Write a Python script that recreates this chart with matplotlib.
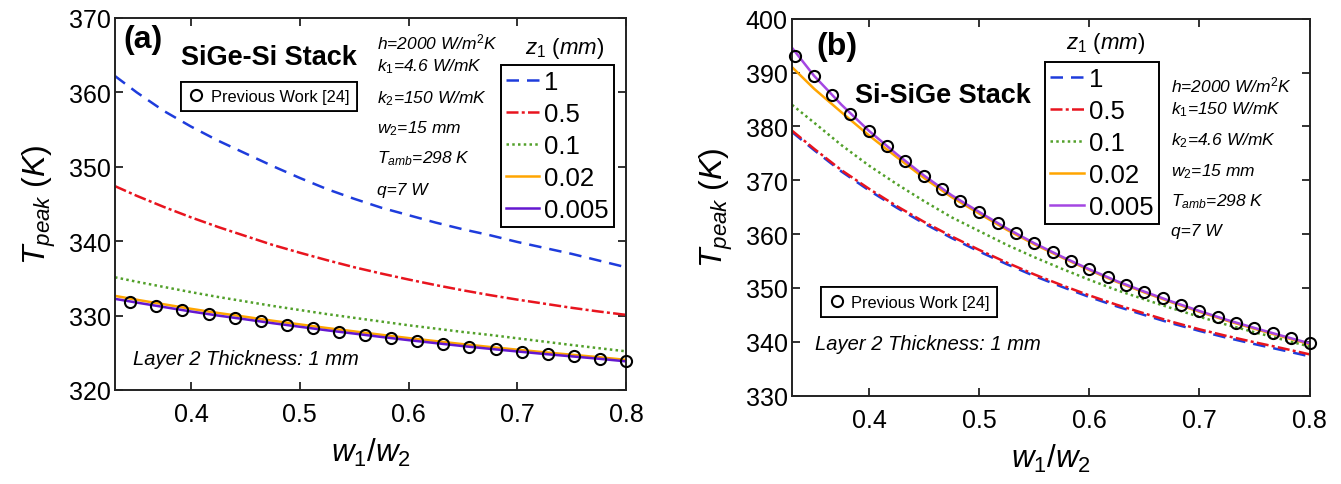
import matplotlib
matplotlib.use("Agg")
import matplotlib.pyplot as plt
from matplotlib.lines import Line2D

plt.rcParams['font.family'] = ['Liberation Sans', 'DejaVu Sans']
plt.rcParams['mathtext.fontset'] = 'custom'
plt.rcParams['mathtext.rm'] = 'Liberation Sans'
plt.rcParams['mathtext.it'] = 'Liberation Sans:italic'
plt.rcParams['mathtext.bf'] = 'Liberation Sans:bold'

# ---------------- data ----------------
w_ratio = [0.33, 0.35, 0.375, 0.40, 0.425, 0.45, 0.475, 0.50, 0.525, 0.55,
           0.575, 0.60, 0.625, 0.65, 0.675, 0.70, 0.725, 0.75, 0.775, 0.80]

z1_labels = ['1', '0.5', '0.1', '0.02', '0.005']

# (a) SiGe-Si stack, peak temperature (K) for each z1
a_z1_1 = [362.2, 360.0, 357.5, 355.4, 353.5, 351.8, 350.1, 348.5, 347.0, 345.7,
          344.5, 343.5, 342.5, 341.6, 340.8, 339.9, 339.1, 338.3, 337.4, 336.5]
a_z1_05 = [347.4, 346.1, 344.6, 343.2, 341.9, 340.7, 339.5, 338.45, 337.45, 336.5,
           335.65, 334.85, 334.1, 333.4, 332.75, 332.15, 331.6, 331.05, 330.55, 330.1]
a_z1_01 = [335.15, 334.55, 333.85, 333.15, 332.5, 331.9, 331.3, 330.75, 330.2, 329.7,
           329.2, 328.7, 328.25, 327.8, 327.4, 326.95, 326.5, 326.05, 325.62, 325.2]
a_z1_002 = [332.65, 332.13, 331.52, 330.91, 330.35, 329.84, 329.31, 328.82, 328.33, 327.88,
            327.42, 326.98, 326.57, 326.16, 325.78, 325.42, 325.07, 324.74, 324.41, 324.05]
a_z1_0005 = [332.25, 331.75, 331.15, 330.55, 330.0, 329.5, 328.98, 328.5, 328.02, 327.58,
             327.13, 326.7, 326.3, 325.9, 325.53, 325.18, 324.84, 324.52, 324.2, 323.85]
a_prev_x = [0.344, 0.368, 0.392, 0.416, 0.440, 0.464, 0.488, 0.512, 0.536, 0.560,
            0.584, 0.608, 0.632, 0.656, 0.680, 0.704, 0.728, 0.752, 0.776, 0.800]
a_prev_T = [331.87, 331.27, 330.70, 330.20, 329.70, 329.22, 328.74, 328.28, 327.83, 327.39,
            326.96, 326.56, 326.18, 325.82, 325.49, 325.17, 324.84, 324.55, 324.23, 323.85]

# (b) Si-SiGe stack
b_z1_1 = [378.95, 375.6, 371.6, 368.1, 364.9, 361.95, 359.25, 356.75, 354.4, 352.2,
          350.2, 348.3, 346.55, 344.95, 343.4, 342.0, 340.72, 339.55, 338.43, 337.28]
b_z1_05 = [379.2, 375.85, 371.85, 368.4, 365.2, 362.25, 359.55, 357.05, 354.7, 352.5,
           350.5, 348.6, 346.85, 345.25, 343.7, 342.3, 341.05, 339.9, 338.8, 337.65]
b_z1_01 = [384.0, 380.7, 376.5, 372.7, 369.3, 366.1, 363.1, 360.55, 358.0, 355.7,
           353.55, 351.5, 349.57, 347.86, 346.2, 344.63, 343.13, 341.76, 340.42, 339.11]
b_z1_002 = [391.0, 387.0, 382.6, 378.3, 374.3, 370.4, 366.85, 363.8, 360.8, 358.1,
            355.65, 353.3, 351.1, 349.15, 347.3, 345.55, 343.9, 342.4, 340.95, 339.55]
b_z1_0005 = [394.6, 389.4, 384.0, 379.15, 374.85, 370.85, 367.2, 364.1, 361.05, 358.3,
             355.8, 353.45, 351.25, 349.3, 347.45, 345.7, 344.05, 342.55, 341.1, 339.7]
b_prev_x = [0.333, 0.350, 0.366, 0.383, 0.400, 0.416, 0.433, 0.450, 0.466, 0.483,
            0.500, 0.517, 0.533, 0.550, 0.567, 0.583, 0.600, 0.617, 0.633, 0.650,
            0.667, 0.683, 0.700, 0.717, 0.733, 0.750, 0.767, 0.783, 0.800]
b_prev_T = [393.1, 389.4, 385.8, 382.3, 379.2, 376.3, 373.5, 370.85, 368.35, 366.15,
            364.1, 362.05, 360.1, 358.3, 356.6, 355.0, 353.45, 351.95, 350.6, 349.3,
            348.05, 346.85, 345.7, 344.6, 343.55, 342.55, 341.6, 340.65, 339.7]

a_params = ['h=2000 W/m$^{\\mathit{2}}$K', 'k$_{\\mathit{1}}$=4.6 W/mK', 'k$_{\\mathit{2}}$=150 W/mK',
            'w$_{\\mathit{2}}$=15 mm', 'T$_{\\mathit{amb}}$=298 K', 'q=7 W']
b_params = ['h=2000 W/m$^{\\mathit{2}}$K', 'k$_{\\mathit{1}}$=150 W/mK', 'k$_{\\mathit{2}}$=4.6 W/mK',
            'w$_{\\mathit{2}}$=15 mm', 'T$_{\\mathit{amb}}$=298 K', 'q=7 W']

# ---------------- styles ----------------
BLUE = '#1e3cdc'
RED = '#e8141e'
GREEN = '#52a02a'
ORANGE = '#ffa500'
PURPLE_A = '#6418d0'
PURPLE_B = '#a446e2'

line_styles = [
    dict(color=BLUE, dashes=(5.0, 3.2)),
    dict(color=RED, dashes=(4.8, 1.3, 1.2, 1.3)),
    dict(color=GREEN, dashes=(1.0, 1.3)),
    dict(color=ORANGE, ls='-'),
]
LW = 1.8

W, H = 1341, 485
fig = plt.figure(figsize=(W / 100, H / 100), dpi=100)
axA = fig.add_axes([115 / W, 1 - 391 / H, 511 / W, 372 / H])
axB = fig.add_axes([792 / W, 1 - 396.5 / H, 517.5 / W, 376.8 / H])


def draw_panel(ax, series, purple, prev_x, prev_T, ylim, yticks):
    handles = []
    for vals, st in zip(series[:4], line_styles):
        ln, = ax.plot(w_ratio, vals, lw=LW, **st)
        handles.append(ln)
    ln, = ax.plot(w_ratio, series[4], lw=LW, color=purple)
    handles.append(ln)
    ax.plot(prev_x, prev_T, ls='none', marker='o', ms=8.0, mfc='none',
            mec='black', mew=1.5, clip_on=False, zorder=5)
    ax.set_xlim(0.33, 0.8)
    ax.set_ylim(*ylim)
    ax.set_xticks([0.4, 0.5, 0.6, 0.7, 0.8])
    ax.set_xticklabels(['0.4', '0.5', '0.6', '0.7', '0.8'])
    ax.set_yticks(yticks)
    ax.tick_params(direction='in', top=True, right=True, length=6, width=1.3,
                   labelsize=18, color='#222222')
    ax.tick_params(axis='x', pad=9)
    ax.tick_params(axis='y', pad=3)
    for s in ax.spines.values():
        s.set_linewidth(1.4)
        s.set_color('#222222')
    ax.set_xlabel(r'$\mathit{w_1/w_2}$', fontsize=22.5, labelpad=7)
    ax.set_ylabel(r'$\mathit{T_{peak}\ (K)}$', fontsize=23, labelpad=8)
    return handles


def z1_legend(ax, handles, x0, y1):
    leg = ax.legend(handles, z1_labels, loc='upper left', bbox_to_anchor=(x0, y1),
                    borderaxespad=0, fontsize=18.5, handlelength=1.3, handletextpad=0.2,
                    labelspacing=0.31, borderpad=0.2, frameon=True, fancybox=False,
                    edgecolor='black', framealpha=1)
    leg.get_frame().set_linewidth(1.4)
    ax.add_artist(leg)


def prev_legend(ax, x0, y1):
    h = Line2D([], [], ls='none', marker='o', ms=8.0, mfc='none', mec='black', mew=1.5)
    leg = ax.legend([h], ['Previous Work [24]'], loc='upper left', bbox_to_anchor=(x0, y1),
                    borderaxespad=0, fontsize=11.8, handlelength=1.0, handletextpad=0.4,
                    borderpad=0.45, frameon=True, fancybox=False, edgecolor='black',
                    framealpha=1)
    leg.get_frame().set_linewidth(1.3)
    ax.add_artist(leg)


# ---------------- panel (a) ----------------
hA = draw_panel(axA, [a_z1_1, a_z1_05, a_z1_01, a_z1_002, a_z1_0005], PURPLE_A,
                a_prev_x, a_prev_T, (320, 370), [320, 330, 340, 350, 360, 370])
z1_legend(axA, hA, 0.755, 0.874)
prev_legend(axA, 0.129, 0.829)
axA.text(0.016, 0.921, '(a)', transform=axA.transAxes, fontsize=23, fontweight='bold',
         va='baseline', ha='left')
axA.text(0.129, 0.876, 'SiGe-Si Stack', transform=axA.transAxes, fontsize=19.5,
         fontweight='bold', va='baseline', ha='left')
axA.text(0.879, 0.907, r'$\mathit{z_1\ (mm)}$', transform=axA.transAxes, fontsize=16,
         va='baseline', ha='center')
for txt, yy in zip(a_params, [0.918, 0.859, 0.774, 0.694, 0.613, 0.528]):
    axA.text(0.513, yy, txt, transform=axA.transAxes, fontsize=12.5, style='italic',
             va='baseline', ha='left')
axA.text(0.036, 0.070, 'Layer 2 Thickness: 1 mm', transform=axA.transAxes, fontsize=14.5,
         style='italic', va='baseline', ha='left')

# ---------------- panel (b) ----------------
hB = draw_panel(axB, [b_z1_1, b_z1_05, b_z1_01, b_z1_002, b_z1_0005], PURPLE_B,
                b_prev_x, b_prev_T, (330, 400), [330, 340, 350, 360, 370, 380, 390, 400])
z1_legend(axB, hB, 0.489, 0.886)
prev_legend(axB, 0.056, 0.287)
axB.text(0.048, 0.907, '(b)', transform=axB.transAxes, fontsize=23, fontweight='bold',
         va='baseline', ha='left')
axB.text(0.122, 0.780, 'Si-SiGe Stack', transform=axB.transAxes, fontsize=19.5,
         fontweight='bold', va='baseline', ha='left')
axB.text(0.605, 0.923, r'$\mathit{z_1\ (mm)}$', transform=axB.transAxes, fontsize=16,
         va='baseline', ha='center')
for txt, yy in zip(b_params, [0.807, 0.748, 0.667, 0.584, 0.504, 0.425]):
    axB.text(0.732, yy, txt, transform=axB.transAxes, fontsize=12.5, style='italic',
             va='baseline', ha='left')
axB.text(0.044, 0.1234, 'Layer 2 Thickness: 1 mm', transform=axB.transAxes, fontsize=14.5,
         style='italic', va='baseline', ha='left')

fig.savefig('out.png', dpi=100)
